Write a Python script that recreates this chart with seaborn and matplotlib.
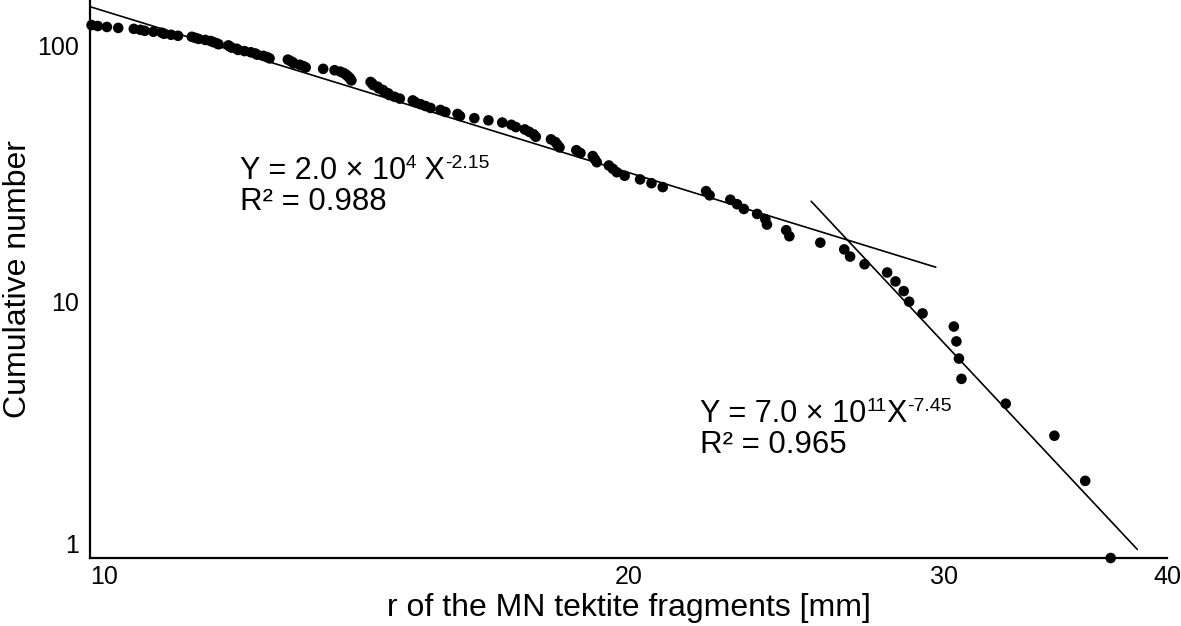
import matplotlib
matplotlib.use("Agg")
import matplotlib.pyplot as plt
import numpy as np
import pandas as pd
import seaborn as sns
from matplotlib.ticker import FixedLocator, FixedFormatter, NullLocator
from matplotlib.transforms import IdentityTransform

# fragment radius [mm], largest first (rank 1 = largest)
radius_mm = [
    37.2, 36.0, 34.6, 32.5, 30.7, 30.6, 30.5, 30.4, 29.2, 28.7,
    28.5, 28.2, 27.9, 27.1, 26.6, 26.4, 25.6, 24.6, 24.5, 23.9,
    23.85, 23.6, 23.2, 23.0, 22.8, 22.2, 22.1, 20.9, 20.6, 20.3,
    19.9, 19.7, 19.6, 19.5, 19.2, 19.15, 19.1, 18.8, 18.7, 18.3,
    18.25, 18.2, 18.1, 17.75, 17.7, 17.6, 17.5, 17.3, 17.2, 17.0,
    16.7, 16.4, 16.1, 16.05, 15.8, 15.7, 15.5, 15.4, 15.3, 15.2,
    15.15, 14.9, 14.8, 14.7, 14.68, 14.6, 14.58, 14.5, 14.48, 14.4,
    14.38, 14.35, 14.0, 13.98, 13.96, 13.93, 13.9, 13.86, 13.8, 13.7,
    13.5, 13.2, 13.16, 13.1, 13.0, 12.98, 12.94, 12.9, 12.6, 12.56,
    12.5, 12.4, 12.37, 12.3, 12.2, 12.1, 12.08, 12.0, 11.97, 11.95,
    11.8, 11.77, 11.72, 11.68, 11.6, 11.5, 11.45, 11.4, 11.2, 11.1,
    11.0, 10.97, 10.85, 10.73, 10.67, 10.58, 10.37, 10.22, 10.1, 10.02,
]
cumulative_number = [
    1, 2, 3, 4, 5, 6, 7, 8, 9, 10,
    11, 12, 13, 14, 15, 16, 17, 18, 19, 20,
    21, 22, 23, 24, 25, 26, 27, 28, 29, 30,
    31, 32, 33, 34, 35, 36, 37, 38, 39, 40,
    41, 42, 43, 44, 45, 46, 47, 48, 49, 50,
    51, 52, 53, 54, 55, 56, 57, 58, 59, 60,
    61, 62, 63, 64, 65, 66, 67, 68, 69, 70,
    71, 72, 73, 74, 75, 76, 77, 78, 79, 80,
    81, 82, 83, 84, 85, 86, 87, 88, 89, 90,
    91, 92, 93, 94, 95, 96, 97, 98, 99, 100,
    101, 102, 103, 104, 105, 106, 107, 108, 109, 110,
    111, 112, 113, 114, 115, 116, 117, 118, 119, 120,
]

# power-law fits Y = a * X^b, drawn over the ranges shown
fit_a = [2.0e4, 7.0e11]
fit_b = [-2.15, -7.45]
fit_x_from = [10.0, 25.3]
fit_x_to = [29.7, 38.5]

x_ticks = [10, 20, 30, 40]
y_ticks = [1, 10, 100]

sns.set_style("white")
plt.rcParams["font.family"] = ["Liberation Sans", "DejaVu Sans"]
for key in ("text.color", "axes.labelcolor", "xtick.color", "ytick.color"):
    plt.rcParams[key] = "black"

df = pd.DataFrame({"r": radius_mm, "n": cumulative_number})

fig = plt.figure(figsize=(11.81, 6.26), dpi=100)
ax = fig.add_axes([0.0762, 0.1086, 0.912, 0.891])

for a, b, x0, x1 in zip(fit_a, fit_b, fit_x_from, fit_x_to):
    xs = np.geomspace(x0, x1, 50)
    fit_df = pd.DataFrame({"r": xs, "n": a * xs ** b})
    sns.lineplot(data=fit_df, x="r", y="n", ax=ax, color="black", lw=1.2)

sns.scatterplot(data=df, x="r", y="n", ax=ax, color="black", s=58,
                edgecolor="none", clip_on=False, zorder=3)

ax.set_xscale("log")
ax.set_yscale("log")
ax.set_xlim(10, 40)
ax.set_ylim(1, 150)

ax.xaxis.set_major_locator(FixedLocator(x_ticks))
ax.xaxis.set_major_formatter(FixedFormatter([str(t) for t in x_ticks]))
ax.yaxis.set_major_locator(FixedLocator(y_ticks))
ax.yaxis.set_major_formatter(FixedFormatter([str(t) for t in y_ticks]))
ax.xaxis.set_minor_locator(NullLocator())
ax.yaxis.set_minor_locator(NullLocator())
ax.tick_params(axis="both", length=0, labelsize=18, labelcolor="black")
ax.tick_params(axis="x", pad=5)
ax.tick_params(axis="y", pad=8)

fig.canvas.draw()
ax.get_xticklabels()[0].set_horizontalalignment("left")
ax.get_yticklabels()[0].set_verticalalignment("bottom")

for side in ("top", "right"):
    ax.spines[side].set_visible(False)
for side in ("left", "bottom"):
    ax.spines[side].set_linewidth(1.6)
    ax.spines[side].set_color("black")

ax.set_xlabel("r of the MN tektite fragments [mm]", fontsize=23, labelpad=3)
ax.set_ylabel("Cumulative number", fontsize=23)
ax.yaxis.set_label_coords(-0.053, 0.5)


def rich_text(x_px, y_px, parts):
    # parts: (text, fontsize, raise in px); x/y in pixels from top-left
    renderer = fig.canvas.get_renderer()
    h = fig.bbox.height
    x = x_px
    for s, size, dy in parts:
        t = fig.text(x, h - y_px + dy, s, fontsize=size, va="baseline",
                     ha="left", transform=IdentityTransform())
        x = t.get_window_extent(renderer).x1


rich_text(240, 179, [("Y = 2.0 × 10", 22, 0), ("4", 13.5, 11),
                     (" X", 22, 0), ("-2.15", 14, 11)])
rich_text(240, 210, [("R² = 0.988", 22.5, 0)])
rich_text(700, 422, [("Y = 7.0 × 10", 22, 0), ("11", 14, 11),
                     ("X", 22, 0), ("-7.45", 14, 11)])
rich_text(700, 453, [("R² = 0.965", 22.5, 0)])

fig.savefig("out.png", dpi=100)
